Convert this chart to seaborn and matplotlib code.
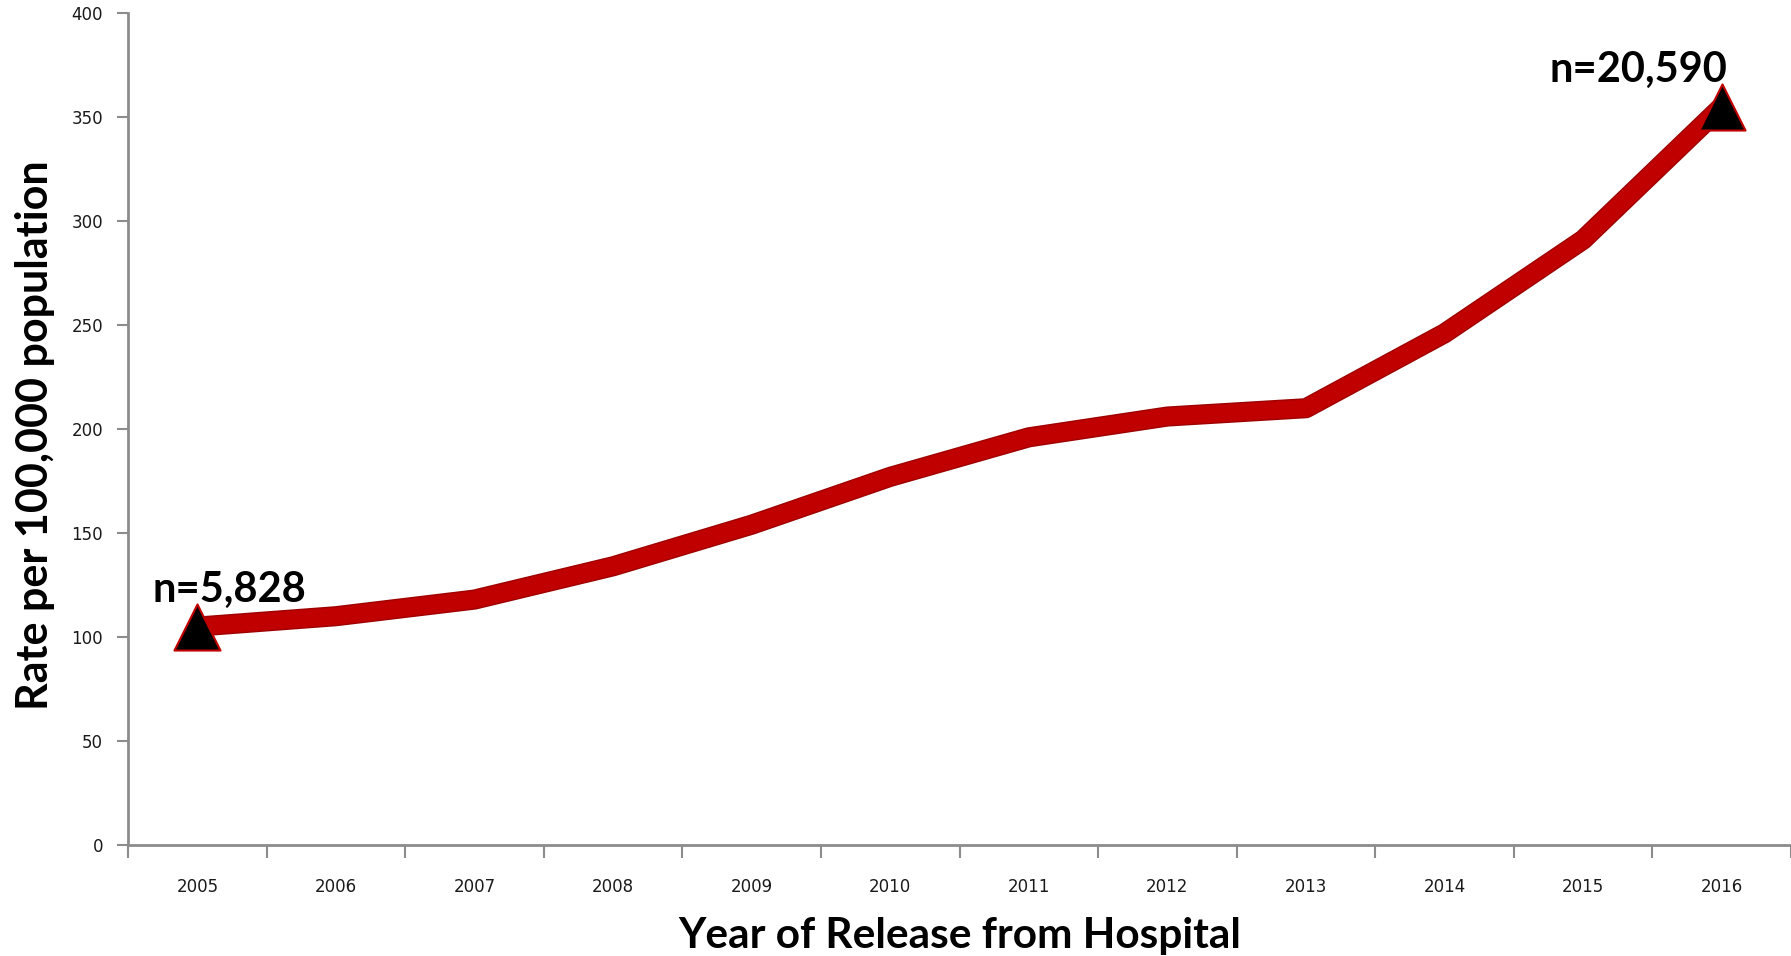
import matplotlib
matplotlib.use("Agg")
import matplotlib.pyplot as plt
import seaborn as sns
import pandas as pd
import numpy as np
from matplotlib.ticker import FixedLocator, NullFormatter

years = ["2005", "2006", "2007", "2008", "2009", "2010",
         "2011", "2012", "2013", "2014", "2015", "2016"]
rates = [105, 110, 118, 134, 154, 177, 196, 206, 210, 246, 291, 355]
endpoint_labels = ["n=5,828", "n=20,590"]
y_ticks = [0, 50, 100, 150, 200, 250, 300, 350, 400]

sns.set_theme(style="white")
plt.rcParams["font.family"] = ["DejaVu Sans"]

df = pd.DataFrame({"pos": np.arange(len(years)), "year": years, "rate": rates})

fig = plt.figure(figsize=(17.91, 9.56), dpi=100)
ax = fig.add_axes([0.0715, 0.1161, 0.9285, 0.8703])

sns.lineplot(data=df, x="pos", y="rate", ax=ax, color="#9e0000",
             linewidth=14.5, solid_capstyle="butt", solid_joinstyle="round")
sns.lineplot(data=df, x="pos", y="rate", ax=ax, color="#C00000",
             linewidth=12.5, solid_capstyle="butt", solid_joinstyle="round")

ends = df.iloc[[0, -1]]
sns.scatterplot(data=ends, x="pos", y="rate", ax=ax, marker="^", s=1100,
                color="black", edgecolor="#C00000", linewidth=1.5, zorder=5)

ax.set_xlim(-0.5, len(years) - 0.5)
ax.set_ylim(0, 400)
ax.set_yticks(y_ticks)
ax.set_yticklabels([str(v) for v in y_ticks], fontsize=12, color="#1a1a1a")

ax.xaxis.set_major_locator(FixedLocator(np.arange(-0.5, len(years), 1.0)))
ax.xaxis.set_major_formatter(NullFormatter())
ax.set_xticks(np.arange(len(years)), labels=years, minor=True)
ax.tick_params(axis="x", which="minor", length=0, pad=24, labelsize=12,
               labelcolor="#1a1a1a")
ax.tick_params(axis="x", which="major", length=9, width=1.5, color="#8c8c8c",
               direction="out", bottom=True)
ax.tick_params(axis="y", length=8, width=1.5, color="#8c8c8c",
               direction="out", left=True, pad=10)

for side in ["top", "right"]:
    ax.spines[side].set_visible(False)
for side in ["left", "bottom"]:
    ax.spines[side].set_color("#8c8c8c")
    ax.spines[side].set_linewidth(2)

ax.set_xlabel("Year of Release from Hospital", fontsize=30.5, fontweight="bold",
              family=["Lato", "DejaVu Sans"], color="black")
ax.set_ylabel("Rate per 100,000 population", fontsize=31, fontweight="bold",
              family=["Lato", "DejaVu Sans"], color="black")
ax.xaxis.set_label_coords(0.5, -0.087)
ax.yaxis.set_label_coords(-0.044, 0.493)

ax.annotate(endpoint_labels[0], xy=(df["pos"].iloc[0], df["rate"].iloc[0]),
            xytext=(-32, 13), textcoords="offset points", ha="left", va="bottom",
            fontsize=30, fontweight="bold", family=["Lato", "DejaVu Sans"],
            color="black")
ax.annotate(endpoint_labels[1], xy=(df["pos"].iloc[-1], df["rate"].iloc[-1]),
            xytext=(4, 13), textcoords="offset points", ha="right", va="bottom",
            fontsize=30, fontweight="bold", family=["Lato", "DejaVu Sans"],
            color="black")

fig.savefig("out.png", dpi=100, facecolor="white")
